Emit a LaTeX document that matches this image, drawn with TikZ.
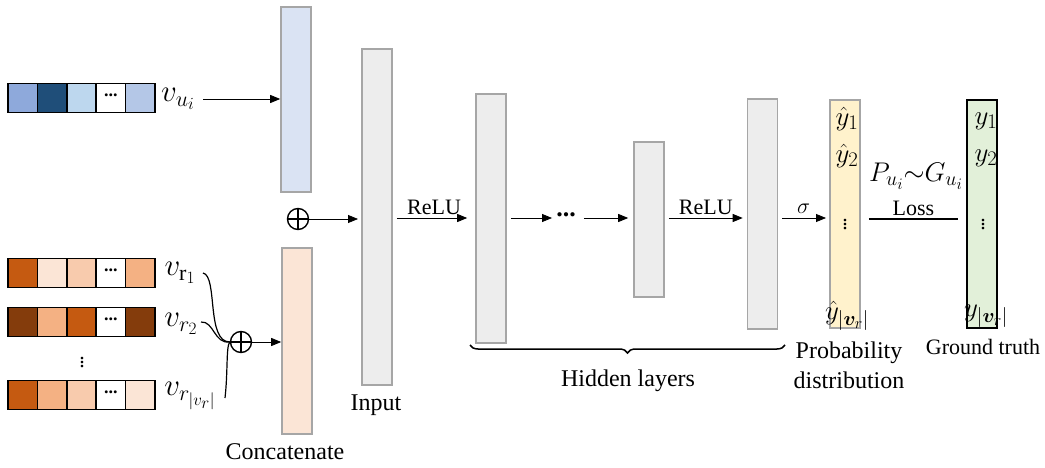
\documentclass[tikz,border=0pt]{standalone}
\usepackage{amsmath}
\usepackage{amssymb}
\usepackage{bm}
\usepackage{fontspec}
\setmainfont{Liberation Serif}
\usetikzlibrary{arrows.meta,decorations.pathreplacing}

% scalable math fonts for the large labels
\DeclareFontShape{OML}{cmm}{m}{it}{<->cmmi12}{}
\DeclareFontShape{OML}{cmm}{b}{it}{<->cmmib10}{}
\DeclareFontShape{OMS}{cmsy}{m}{n}{<->cmsy10}{}
\DeclareFontShape{OMS}{cmsy}{b}{n}{<->cmbsy10}{}
\DeclareFontShape{OMX}{cmex}{m}{n}{<->cmex10}{}
\DeclareMathSizes{27}{27}{20}{16}
\DeclareMathSizes{31}{31}{22}{17}

\definecolor{bA}{HTML}{8EA9DB}
\definecolor{bB}{HTML}{1F4E79}
\definecolor{bC}{HTML}{BDD7EE}
\definecolor{bD}{HTML}{B4C7E7}
\definecolor{oA}{HTML}{C55A11}
\definecolor{oB}{HTML}{FBE5D6}
\definecolor{oC}{HTML}{F8CBAD}
\definecolor{oD}{HTML}{F4B183}
\definecolor{oE}{HTML}{843C0C}
\definecolor{colblue}{HTML}{DAE3F3}
\definecolor{colgrey}{HTML}{EDEDED}
\definecolor{colyellow}{HTML}{FFF2CC}
\definecolor{colgreen}{HTML}{E2F0D9}
\definecolor{edgegrey}{HTML}{A6A6A6}

\newcommand{\celldots}{\raisebox{0.28em}{\textbf{...}}}

\tikzset{
	cell/.style={draw, line width=1.5pt, minimum width=29.4pt, minimum height=29pt, inner sep=0pt, font=\fontsize{18}{20}\selectfont},
	layer/.style={draw=edgegrey, line width=1.6pt, minimum width=30pt, inner sep=0pt},
	osum/.style={circle, draw, line width=1.4pt, minimum size=21pt, inner sep=0pt,
		path picture={\draw[line width=1.4pt] (path picture bounding box.north) -- (path picture bounding box.south)
			(path picture bounding box.west) -- (path picture bounding box.east);}},
	arr/.style={-{Triangle[length=10pt,width=8pt]}, line width=0.8pt},
	lbl/.style={font=\fontsize{24}{30}\selectfont, inner sep=0pt},
	slbl/.style={font=\fontsize{22}{26}\selectfont, inner sep=0pt},
	mlbl/.style={font=\fontsize{27}{28}\selectfont, inner sep=0pt},
	vlbl/.style={font=\fontsize{31}{32}\selectfont, inner sep=0pt}
}

\begin{document}
\begin{tikzpicture}[x=1pt, y=-1pt]
\useasboundingbox (0,0) rectangle (1045,468);

% input vectors
\foreach \c/\t [count=\i] in {bA/, bB/, bC/, white/\celldots, bD/}
	\node (u\i) at ({-6.7+29.4*\i},98) [cell, fill=\c] {\t};
\foreach \c/\t [count=\i] in {oA/, oB/, oC/, white/\celldots, oD/}
	\node (ra\i) at ({-6.7+29.4*\i},273) [cell, fill=\c] {\t};
\foreach \c/\t [count=\i] in {oE/, oD/, oA/, white/\celldots, oE/}
	\node (rb\i) at ({-6.7+29.4*\i},322) [cell, fill=\c] {\t};
\foreach \c/\t [count=\i] in {oA/, oD/, oC/, white/\celldots, oB/}
	\node (rc\i) at ({-6.7+29.4*\i},395) [cell, fill=\c] {\t};
\node (rdots) at (82,360) [inner sep=0pt, font=\fontsize{22}{22}\selectfont] {$\vdots$};

\node (vu) at (178,99) [vlbl] {$v_{u_i}$};
\node (vr1) at (180,273) [vlbl] {$v_{\mathrm{r}_1}$};
\node (vr2) at (181,324) [vlbl] {$v_{r_2}$};
\node (vr3) at (190,396) [vlbl] {$v_{r_{|v_r|}}$};

% concatenation
\node (blue) at (296,99.5) [layer, fill=colblue, minimum height=185pt] {};
\node (orange) at (297,341) [layer, fill=oB, minimum height=186pt] {};
\node (sum1) at (298,219) [osum] {};
\node (sum2) at (241,342) [osum] {};
\node (concat) at (285,452) [lbl] {Concatenate};

\draw[arr] (203,99) -- (vu.east -| blue.west);
\draw[line width=1.2pt] (203,273) .. controls (218,276) and (206,342) .. (sum2.west);
\draw[line width=1.2pt] (201,322) .. controls (214,321) and (214,344) .. (sum2.west);
\draw[line width=1.2pt] (225,398) .. controls (228,372) and (226,346) .. (sum2.west);
\draw[arr] (sum2.east) -- (sum2 -| orange.west);
\draw[arr, shorten >=4pt] (sum1.east) -- (sum1 -| 362,0);

% network
\node (input) at (377,217) [layer, fill=colgrey, minimum height=336pt] {};
	\node (inlbl) at (376,405) [lbl] {Input};
\node (h1) at (491,218.5) [layer, fill=colgrey, minimum height=249pt] {};
\node (hdots) at (566,218) [lbl, font=\fontsize{26}{28}\selectfont] {\celldots};
\node (h2) at (649,219.5) [layer, fill=colgrey, minimum height=155pt] {};
\node (h3) at (762.5,214) [layer, fill=colgrey, minimum height=230pt] {};

\draw[arr, shorten <=4pt, shorten >=8pt] (input.east |- 0,218) -- (h1.west |- 0,218)
	node (relu1) [midway, above=3pt, slbl] {ReLU};
\draw[arr, shorten <=4pt] (h1.east |- 0,218) -- ([xshift=-4pt]hdots.west |- 0,218);
\draw[arr, shorten <=4pt, shorten >=5pt] ([xshift=4pt]hdots.east |- 0,218) -- (h2.west |- 0,218);
\draw[arr, shorten <=4pt, shorten >=4pt] (h2.east |- 0,218) -- (h3.west |- 0,218)
	node (relu2) [midway, above=3pt, slbl] {ReLU};
\draw[arr, shorten <=4pt, shorten >=3pt] (h3.east |- 0,218) -- (829,218)
	node (sig) [midway, above=4pt, slbl] {$\sigma$};

\coordinate (brl) at (470,345);
\coordinate (brr) at (785,345);
\draw[decorate, decoration={brace, mirror, amplitude=8pt}, line width=1.5pt] (brl) -- (brr);
\node (hidden) at (628,381) [lbl] {Hidden layers};

% output
\node (prob) at (845,214) [layer, fill=colyellow, minimum height=228pt] {};
	\node (yh1) at (847,119) [mlbl] {$\hat{y}_1$};
	\node (yh2) at (847,156) [mlbl] {$\hat{y}_2$};
	\node (yh3) at (845,222) [slbl] {$\vdots$};
	\node (yh4) at (847,316) [mlbl] {$\hat{y}_{|\bm{v}_r|}$};
\node (problbl) at (849,365) [lbl, align=center] {Probability\\distribution};

\node (truth) at (982,214) [layer, draw=black, fill=colgreen, minimum height=228pt] {};
	\node (y1) at (986,121) [mlbl] {$y_1$};
	\node (y2) at (986,158) [mlbl] {$y_2$};
	\node (y3) at (983,222) [slbl] {$\vdots$};
	\node (y4) at (986,316) [mlbl] {$y_{|\bm{v}_r|}$};
\node (truthlbl) at (983,347) [slbl] {Ground truth};

\draw[line width=1.5pt, shorten <=8pt, shorten >=8pt] (prob.east |- 0,219) -- (truth.west |- 0,219)
	node (loss) [midway, above=3pt, slbl] {Loss};
\node (dist) at (916,176) [mlbl] {$P_{u_i}{\sim}G_{u_i}$};
\end{tikzpicture}
\end{document}
